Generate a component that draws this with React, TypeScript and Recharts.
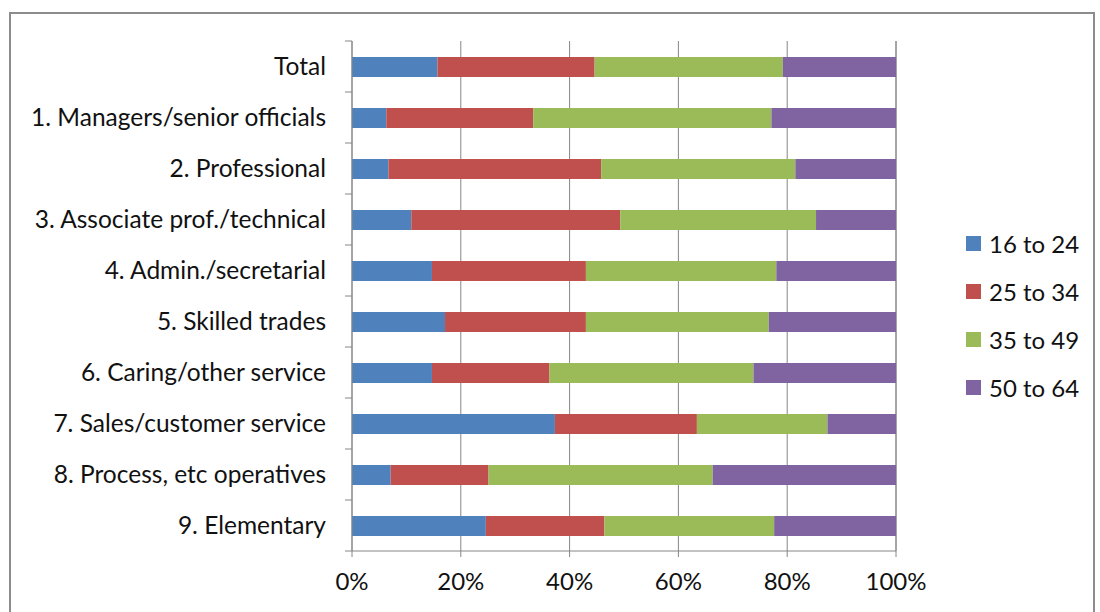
import React from "react";
import { BarChart, Bar, XAxis, YAxis, CartesianGrid } from "recharts";

const categories = [
  "Total",
  "1. Managers/senior officials",
  "2. Professional",
  "3. Associate prof./technical",
  "4. Admin./secretarial",
  "5. Skilled trades",
  "6. Caring/other service",
  "7. Sales/customer service",
  "8. Process, etc operatives",
  "9. Elementary",
];

const age16to24 = [15.7, 6.3, 6.7, 10.9, 14.7, 17.1, 14.7, 37.3, 7.1, 24.6];
const age25to34 = [28.9, 27.0, 39.1, 38.4, 28.3, 25.9, 21.6, 26.1, 18.0, 21.8];
const age35to49 = [34.6, 43.8, 35.7, 36.0, 35.0, 33.6, 37.5, 24.0, 41.2, 31.2];
const age50to64 = [20.8, 22.9, 18.5, 14.7, 22.0, 23.4, 26.2, 12.6, 33.7, 22.4];

const seriesNames = ["16 to 24", "25 to 34", "35 to 49", "50 to 64"];
const seriesColors = ["#4F81BD", "#C0504D", "#9BBB59", "#8064A2"];
const xTicks = [0, 20, 40, 60, 80, 100];

const data = categories.map((name, i) => ({
  name,
  "16 to 24": age16to24[i],
  "25 to 34": age25to34[i],
  "35 to 49": age35to49[i],
  "50 to 64": age50to64[i],
}));

const FONT = "Lato, 'Open Sans', sans-serif";
const TEXT = "#111111";
const GRID = "#868686";

// category label plus Excel-style tick marks between categories
const CategoryTick = (props: any) => {
  const { x, y, payload, index, visibleTicksCount } = props;
  const half = payload?.offset || 25.5;
  const ax = x + 8;
  return (
    <g>
      <line x1={ax - 7} x2={ax} y1={y - half} y2={y - half} stroke={GRID} strokeWidth={1} />
      {index === visibleTicksCount - 1 && (
        <line x1={ax - 7} x2={ax} y1={y + half} y2={y + half} stroke={GRID} strokeWidth={1} />
      )}
      <text x={x - 18} y={y} dy={8} textAnchor="end" fill={TEXT} fontSize={24.5} fontFamily={FONT}>
        {payload.value}
      </text>
    </g>
  );
};

const LegendBox = () => (
  <div
    style={{ position: "absolute", left: 966, top: 219, fontFamily: FONT, fontSize: 24, color: TEXT }}
  >
    {seriesNames.map((n, i) => (
      <div key={n} style={{ display: "flex", alignItems: "center", height: 48 }}>
        <span
          style={{ width: 15, height: 15, background: seriesColors[i], display: "inline-block", marginRight: 8 }}
        />
        <span>{n}</span>
      </div>
    ))}
  </div>
);

export default function App() {
  return (
    <div style={{ position: "absolute", left: 0, top: 0, width: 1100, height: 612, overflow: "hidden", background: "#fff" }}>
      <div
        style={{
          position: "absolute",
          left: 9,
          top: 12,
          width: 1086,
          height: 640,
          border: "2px solid #8c8c8c",
          boxSizing: "border-box",
        }}
      />
      <div style={{ position: "absolute", left: 0, top: 0 }}>
        <BarChart
          width={1100}
          height={612}
          data={data}
          layout="vertical"
          margin={{ top: 41, right: 204, bottom: 11, left: 0 }}
          barSize={20}
        >
          <CartesianGrid horizontal={false} stroke={GRID} strokeWidth={1} />
          <XAxis
            type="number"
            domain={[0, 100]}
            ticks={xTicks}
            tickFormatter={(v) => `${v}%`}
            axisLine={{ stroke: GRID }}
            tickLine={{ stroke: GRID }}
            tickSize={6}
            tick={{ fill: TEXT, fontSize: 24, fontFamily: FONT }}
            tickMargin={16}
            height={50}
            interval={0}
          />
          <YAxis
            type="category"
            dataKey="name"
            width={352}
            axisLine={{ stroke: GRID }}
            tickLine={false}
            tick={<CategoryTick />}
            interval={0}
          />
          {seriesNames.map((n, i) => (
            <Bar key={n} dataKey={n} stackId="a" fill={seriesColors[i]} isAnimationActive={false} />
          ))}
        </BarChart>
      </div>
      <LegendBox />
    </div>
  );
}
